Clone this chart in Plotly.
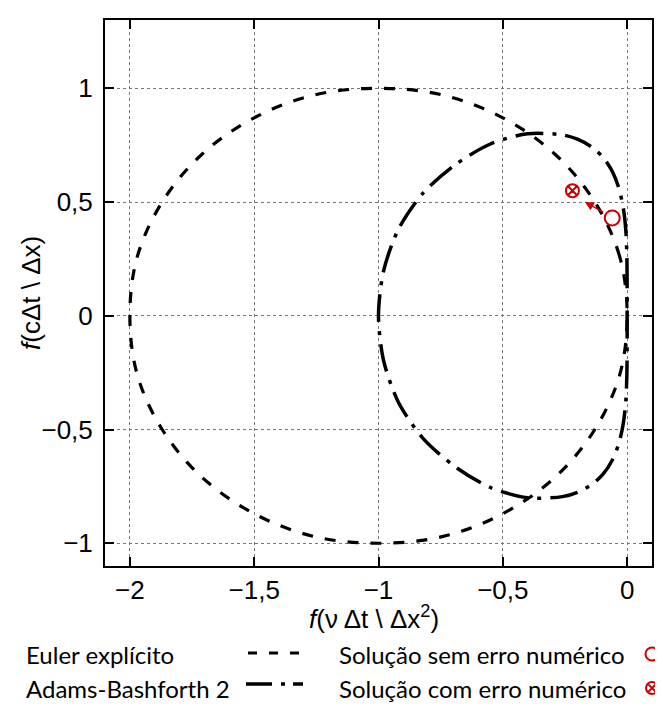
import plotly.graph_objects as go

# ---- data ----
# Euler explicit stability boundary (closed loop)
euler_x = [0, -0.03, -0.13, -0.29, -0.5, -0.74, -1, -1.26, -1.5, -1.71, -1.87, -1.97, -2,
           -1.97, -1.87, -1.71, -1.5, -1.26, -1, -0.74, -0.5, -0.29, -0.13, -0.03, 0]
euler_y = [0, 0.26, 0.5, 0.71, 0.87, 0.97, 1, 0.97, 0.87, 0.71, 0.5, 0.26, 0,
           -0.26, -0.5, -0.71, -0.87, -0.97, -1, -0.97, -0.87, -0.71, -0.5, -0.26, 0]

# Adams-Bashforth 2 stability boundary (closed loop)
ab2_x = [0, 0, -0.001, -0.005, -0.015, -0.033, -0.06, -0.096, -0.14, -0.2, -0.26, -0.4,
         -0.55, -0.69, -0.82, -0.92, -0.98, -1,
         -0.98, -0.92, -0.82, -0.69, -0.55, -0.4,
         -0.26, -0.2, -0.14, -0.096, -0.06, -0.033, -0.015, -0.005, -0.001, 0, 0]
ab2_y = [0, 0.13, 0.255, 0.37, 0.47, 0.56, 0.635, 0.695, 0.74, 0.776, 0.795, 0.8,
         0.755, 0.665, 0.54, 0.38, 0.195, 0,
         -0.195, -0.38, -0.54, -0.665, -0.755, -0.8,
         -0.795, -0.776, -0.74, -0.695, -0.635, -0.56, -0.47, -0.37, -0.255, -0.13, 0]

# markers
ok_point = (-0.06, 0.43)      # solution without numerical error
err_point = (-0.22, 0.55)     # solution with numerical error
arrow_tail = (-0.09, 0.452)
arrow_head = (-0.17, 0.50)

x_ticks = [-2, -1.5, -1, -0.5, 0]
x_ticktext = ['\u22122', '\u22121,5', '\u22121', '\u22120,5', '0']
y_ticks = [-1, -0.5, 0, 0.5, 1]
y_ticktext = ['\u22121', '\u22120,5', '0', '0,5', '1']

legend_labels = ['Euler explícito', 'Adams-Bashforth 2']
marker_labels = ['Solução sem erro numérico', 'Solução com erro numérico']

RED = '#cc0000'
OFF = 8  # page body margin
W, H = 655, 703
L, R, T, B = 97, 11, 12, 145
PW, PH = W - L - R, H - T - B


def px(x):
    # page pixel -> paper
    return (x - OFF - L) / PW


def py(y):
    return (H - B - (y - OFF)) / PH


fig = go.Figure()
fig.add_trace(go.Scatter(
    x=euler_x, y=euler_y, mode='lines', line_shape='spline',
    line=dict(color='black', width=3.2, dash='11px,12px'),
    showlegend=False, hoverinfo='skip'
))
fig.add_trace(go.Scatter(
    x=ab2_x, y=ab2_y, mode='lines', line_shape='spline',
    line=dict(color='black', width=3.5, dash='28px,9px,4px,9px', smoothing=0.8),
    showlegend=False, hoverinfo='skip'
))
fig.add_trace(go.Scatter(
    x=[ok_point[0]], y=[ok_point[1]], mode='markers',
    marker=dict(symbol='circle-open', size=15, color=RED, line=dict(width=2, color=RED)),
    showlegend=False
))
fig.add_trace(go.Scatter(
    x=[err_point[0]], y=[err_point[1]], mode='markers',
    marker=dict(symbol='circle-x-open', size=13, color=RED, line=dict(width=2, color=RED)),
    showlegend=False
))

fig.add_annotation(
    x=arrow_head[0], y=arrow_head[1], ax=arrow_tail[0], ay=arrow_tail[1],
    xref='x', yref='y', axref='x', ayref='y', text='', showarrow=True,
    arrowhead=2, arrowsize=1.2, arrowwidth=1.5, arrowcolor=RED
)

# axis titles
title_font = dict(family='Liberation Sans', size=26, color='black')
fig.add_annotation(x=px(374), y=py(617), xref='paper', yref='paper',
                   text='<i>f</i>(ν Δt \\ Δx<sup>2</sup>)', showarrow=False,
                   xanchor='center', yanchor='middle', font=title_font)
fig.add_annotation(x=px(31), y=py(293), xref='paper', yref='paper',
                   text='<i>f</i>(cΔt \\ Δx)', showarrow=False, textangle=-90,
                   xanchor='center', yanchor='middle', font=title_font)

# legend (text on the left, sample on the right)
legend_font = dict(family='Lato', size=24, color='black')
row_y = [654, 688]
for lab, yy in zip(legend_labels, row_y):
    fig.add_annotation(x=px(24), y=py(yy), xref='paper', yref='paper', text=lab,
                       showarrow=False, xanchor='left', yanchor='middle', font=legend_font)
for lab, yy in zip(marker_labels, row_y):
    fig.add_annotation(x=px(337), y=py(yy), xref='paper', yref='paper', text=lab,
                       showarrow=False, xanchor='left', yanchor='middle', font=legend_font)

fig.add_shape(type='line', xref='paper', yref='paper', x0=px(248), x1=px(300),
              y0=py(row_y[0] - 1), y1=py(row_y[0] - 1),
              line=dict(color='black', width=3, dash='9px,12px'))
fig.add_shape(type='line', xref='paper', yref='paper', x0=px(246), x1=px(303),
              y0=py(row_y[1] - 4), y1=py(row_y[1] - 4),
              line=dict(color='black', width=3.5, dash='26px,9px,4px,8px'))

# legend markers drawn as shapes
r = 6.5
cx = 652
fig.add_shape(type='circle', xref='paper', yref='paper',
              x0=px(cx - r), x1=px(cx + r), y0=py(row_y[0] + r), y1=py(row_y[0] - r),
              line=dict(color=RED, width=2))
r2 = 6
fig.add_shape(type='circle', xref='paper', yref='paper',
              x0=px(cx - r2), x1=px(cx + r2), y0=py(row_y[1] + r2), y1=py(row_y[1] - r2),
              line=dict(color=RED, width=2))
d = r2 * 0.6
for sx in (1, -1):
    fig.add_shape(type='line', xref='paper', yref='paper',
                  x0=px(cx - d), x1=px(cx + d),
                  y0=py(row_y[1] - sx * d), y1=py(row_y[1] + sx * d),
                  line=dict(color=RED, width=2))

axis_common = dict(
    showline=True, linecolor='black', linewidth=2, mirror='allticks',
    ticks='inside', ticklen=9, tickwidth=1.5, tickcolor='black',
    showgrid=True, gridcolor='#777777', griddash='dot', gridwidth=1,
    zeroline=False, tickfont=dict(family='Liberation Sans', size=26, color='black'),
)

fig.update_xaxes(range=[-2.1, 0.1], tickvals=x_ticks, ticktext=x_ticktext, **axis_common)
fig.update_yaxes(range=[-1.1, 1.3], tickvals=y_ticks, ticktext=y_ticktext,
                 ticklabelstandoff=5, **axis_common)

fig.update_layout(
    width=W, height=H,
    margin=dict(l=L, r=R, t=T, b=B, autoexpand=False),
    plot_bgcolor='white', paper_bgcolor='white',
    showlegend=False,
)

fig.write_html('out.html')
